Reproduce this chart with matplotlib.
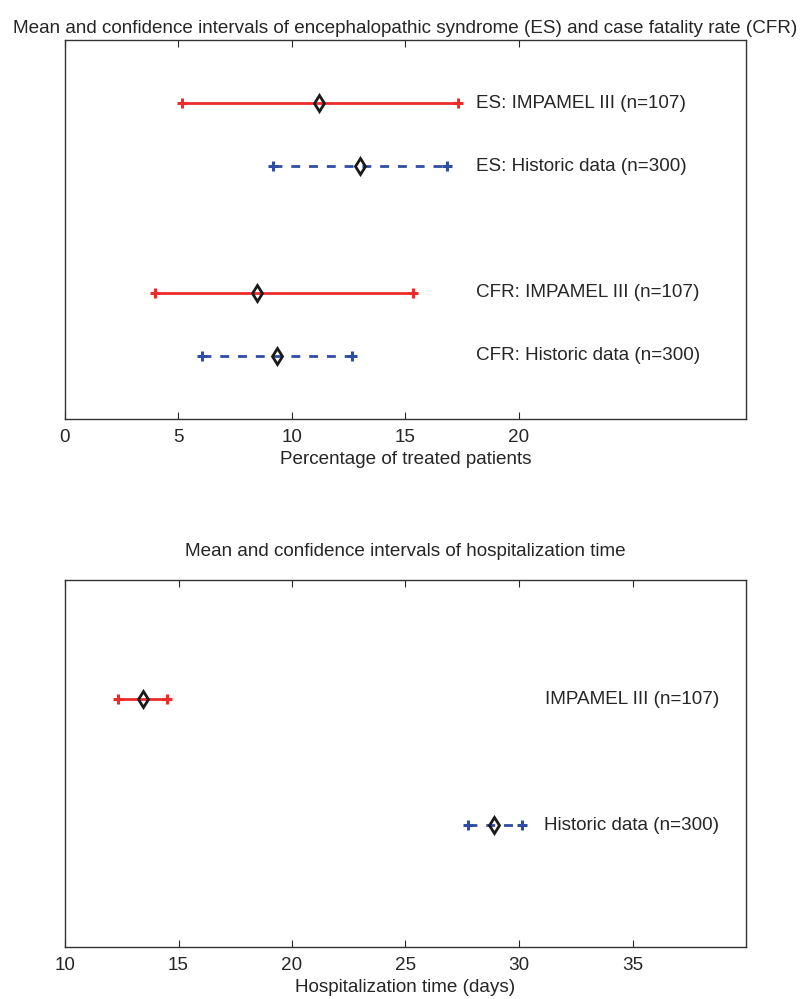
import matplotlib
matplotlib.use('Agg')
import matplotlib.pyplot as plt

plt.rcParams['font.family'] = ['Liberation Sans', 'DejaVu Sans']

# Data - top panel (percentage of treated patients)
top_labels = ['ES: IMPAMEL III (n=107)', 'ES: Historic data (n=300)',
              'CFR: IMPAMEL III (n=107)', 'CFR: Historic data (n=300)']
top_rows = [5, 4, 2, 1]
top_mean = [11.2, 13.0, 8.45, 9.35]
top_low = [5.15, 9.15, 3.95, 6.05]
top_high = [17.3, 16.85, 15.35, 12.65]
top_group = ['impamel', 'historic', 'impamel', 'historic']

# Data - bottom panel (hospitalization time, days)
bot_labels = ['IMPAMEL III (n=107)', 'Historic data (n=300)']
bot_rows = [2, 1]
bot_mean = [13.45, 28.9]
bot_low = [12.35, 27.75]
bot_high = [14.5, 30.15]
bot_group = ['impamel', 'historic']

colors = {'impamel': '#ee2b2b', 'historic': '#2f4ea3'}
FS = 13.6
TXT = '#262626'

fig = plt.figure(figsize=(8.04, 9.99), dpi=100)
ax1 = fig.add_axes([65/804, 1-419/999, 681/804, 379/999])
ax2 = fig.add_axes([65/804, 1-947/999, 681/804, 367/999])


def draw(ax, rows, mean, low, high, group):
    for y, m, lo, hi, g in zip(rows, mean, low, high, group):
        c = colors[g]
        if g == 'historic':
            ax.plot([lo, hi], [y, y], color=c, lw=2.0, dashes=(3.2, 3.2))
        else:
            ax.plot([lo, hi], [y, y], color=c, lw=2.0)
        ax.plot([lo, hi], [y, y], ls='none', marker='+', color=c, ms=7.5, mew=2.2)
        ax.plot([m], [y], ls='none', marker='d', color='#1a1a1a', ms=8.5,
                mew=2.0, fillstyle='none')


def style(ax):
    ax.set_yticks([])
    ax.tick_params(axis='x', direction='in', top=True, length=5, width=0.8,
                   labelsize=FS, pad=7, colors=TXT)
    for s in ax.spines.values():
        s.set_color('#333333')
        s.set_linewidth(1.0)


# top panel
draw(ax1, top_rows, top_mean, top_low, top_high, top_group)
for y, lab in zip(top_rows, top_labels):
    ax1.text(18.1, y, lab, ha='left', va='center', fontsize=FS, color=TXT)
ax1.set_xlim(0, 30)
ax1.set_ylim(0, 6)
ax1.set_xticks([0, 5, 10, 15, 20])
ax1.set_xlabel('Percentage of treated patients', fontsize=FS, labelpad=3.5,
               color=TXT)
ax1.set_title('Mean and confidence intervals of encephalopathic syndrome (ES) '
              'and case fatality rate (CFR)', fontsize=FS, pad=5, color=TXT)
style(ax1)

# bottom panel
draw(ax2, bot_rows, bot_mean, bot_low, bot_high, bot_group)
for y, lab in zip(bot_rows, bot_labels):
    ax2.text(38.8, y, lab, ha='right', va='center', fontsize=FS, color=TXT)
ax2.set_xlim(10, 40)
ax2.set_ylim(0.03, 2.95)
ax2.set_xticks([10, 15, 20, 25, 30, 35])
ax2.set_xlabel('Hospitalization time (days)', fontsize=FS, labelpad=3.5,
               color=TXT)
ax2.set_title('Mean and confidence intervals of hospitalization time',
              fontsize=FS, pad=17, color=TXT)
style(ax2)

fig.savefig('out.png', dpi=100)
